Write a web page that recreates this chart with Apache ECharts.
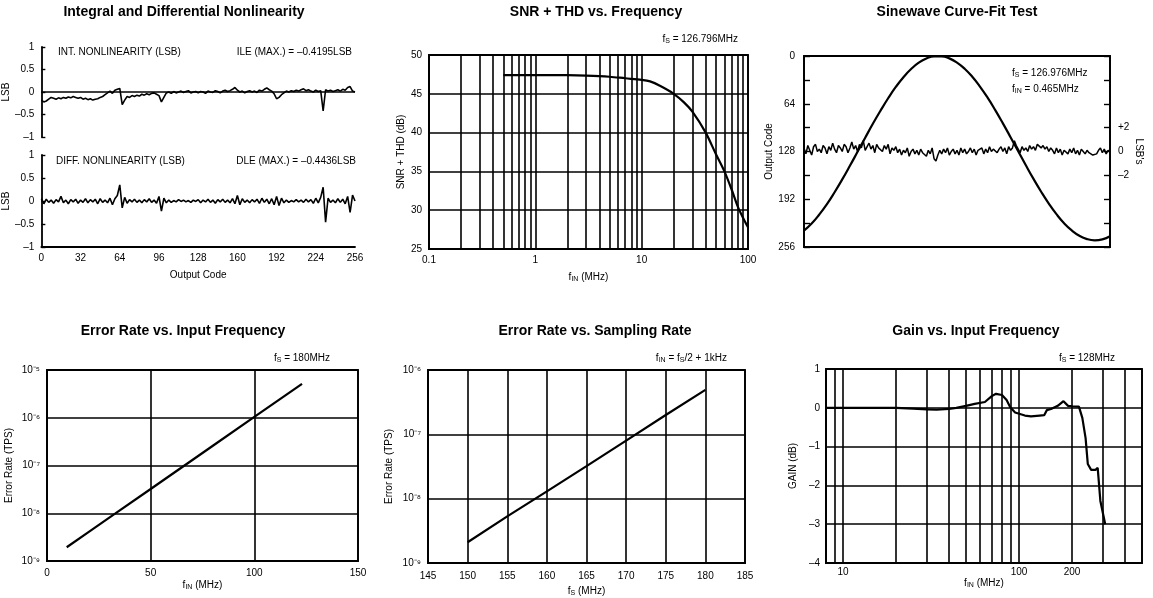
<!DOCTYPE html>
<html>
<head>
<meta charset="utf-8">
<title>ADC typical performance</title>
<script src="https://cdn.jsdelivr.net/npm/echarts@6/dist/echarts.min.js"></script>
<style>
html, body { margin: 0; padding: 0; background: #fff; }
#main { width: 1153px; height: 598px; }
</style>
</head>
<body>
<div id="main"></div>
<script>
// ---- data ----

// INL / DNL, one reading every 2 output codes (0..256)
var codeStep = 2;
var inlData = [
  -0.18, -0.22, -0.2, -0.16, -0.12, -0.14, -0.16, -0.13, -0.15, -0.12, -0.14, -0.11, -0.13, -0.1, -0.12, -0.14,
  -0.12, -0.16, -0.14, -0.17, -0.15, -0.18, -0.16, -0.15, -0.12, -0.1, -0.06, -0.02, 0.02, -0.03, 0.04, 0.06,
  0.08, -0.28, -0.18, -0.1, -0.12, -0.08, -0.1, -0.07, -0.09, -0.05, -0.07, -0.04, -0.06, -0.03, -0.02, -0.05,
  -0.08, -0.22, -0.12, -0.02, 0.0, -0.03, 0.01, -0.02, 0.0, 0.02, -0.01, 0.01, 0.03, -0.02, 0.0, 0.01,
  -0.02, 0.01, 0.0, -0.03, 0.02, 0.0, -0.01, 0.03, 0.01, -0.02, 0.02, 0.04, 0.01, 0.03, 0.06, 0.1,
  0.04, 0.0, 0.02, -0.02, 0.01, 0.03, 0.0, 0.02, -0.01, 0.04, 0.02, 0.06, 0.09, 0.05, 0.02, -0.04,
  -0.15, -0.12, -0.06, -0.02, 0.02, 0.0, 0.03, 0.01, 0.04, 0.02, 0.05, 0.07, 0.03, 0.05, 0.02, 0.0,
  0.04, 0.01, 0.03, -0.42, 0.05, 0.02, 0.04, 0.01, 0.03, 0.05, 0.02, 0.06, 0.04, 0.1, 0.12, 0.02,
  0.0
];
var dnlData = [
  0.05, -0.06, 0.04, -0.03, 0.02, -0.05, 0.03, -0.02, 0.1, -0.04, 0.02, -0.06, 0.03, -0.02, 0.04, -0.05,
  0.02, -0.03, 0.05, -0.04, 0.03, -0.02, 0.04, -0.06, 0.05, -0.03, 0.02, -0.04, 0.06, -0.08, 0.05, 0.12,
  0.35, -0.15, 0.08, -0.05, 0.03, -0.02, 0.04, -0.03, 0.02, -0.04, 0.03, -0.02, 0.05, -0.03, 0.02, -0.05,
  0.1, -0.22, 0.06, -0.04, 0.02, -0.03, 0.01, -0.02, 0.03, -0.01, 0.02, -0.02, 0.01, -0.03, 0.02, -0.01,
  0.03, -0.04, 0.02, -0.02, 0.04, -0.03, 0.02, -0.05, 0.03, -0.02, 0.04, -0.03, 0.02, -0.04, 0.05, -0.06,
  0.12, -0.08, 0.05, -0.03, 0.02, -0.04, 0.03, -0.02, 0.04, -0.05, 0.06, -0.03, 0.04, -0.06, 0.05, -0.08,
  0.1, -0.1, 0.06, -0.04, 0.02, -0.03, 0.01, -0.02, 0.03, -0.02, 0.02, -0.03, 0.04, -0.02, 0.03, -0.05,
  0.06, -0.04, 0.08, 0.3, -0.46, 0.06, -0.03, 0.02, -0.04, 0.05, -0.03, 0.04, -0.06, 0.1, -0.25, 0.13,
  0.0
];

// SNR + THD vs input frequency (MHz, dB)
var snrFreq = [0.5, 1, 2, 3, 5, 7, 10, 12, 15, 20, 25, 30, 40, 50, 60, 70, 80, 90, 100];
var snrValue = [47.4, 47.4, 47.4, 47.35, 47.2, 47.0, 46.8, 46.6, 46.0, 45.0, 43.9, 42.7, 40.0, 37.2, 35.0, 32.7, 30.5, 29.0, 27.8];
var snrMinorGrid = [0.2, 0.3, 0.4, 0.5, 0.6, 0.7, 0.8, 0.9, 2, 3, 4, 5, 6, 7, 8, 9, 20, 30, 40, 50, 60, 70, 80, 90];

// sinewave curve fit: output code every 4 samples, fit error (LSB) every sample
var sineStep = 4;
var sineCode = [234, 224.5, 212.4, 198.5, 182.6, 165.4, 147.2, 128.4, 109.5, 90.9, 73.3, 56.6, 41.5, 28.4,
  17.5, 9.0, 3.3, 0.4, 0.4, 3.2, 8.8, 17.0, 27.9, 41.0, 55.9, 72.5, 90.3, 108.8, 127.7, 146.5, 164.7,
  181.9, 197.8, 212.0, 224.2, 233.8, 241.0, 245.4, 247.0, 245.7, 241.5];
var fitError = [
  0.3, -0.2, 0.5, 0.1, -0.3, 0.4, 0.6, 0.0, 0.2, -0.1,
  0.5, 0.3, -0.2, 0.4, 0.1, 0.7, 0.2, -0.1, 0.5, 0.3,
  0.0, 0.6, 0.4, -0.1, 0.3, 0.8, 0.2, 0.5, 0.0, 0.6,
  0.3, 0.9, 0.1, 0.4, 0.7, 0.2, 0.5, -0.1, 0.6, 0.3,
  0.4, 0.0, 0.5, 0.2, 0.6, -0.2, 0.3, 0.1, 0.4, -0.1,
  0.2, -0.3, 0.1, -0.1, 0.3, -0.4, 0.0, 0.2, -0.2, 0.1,
  -0.3, 0.2, -0.1, 0.0, -0.4, 0.1, -0.2, 0.3, -0.6, -0.8,
  -0.3, 0.1, -0.2, 0.2, -0.1, 0.3, -0.3, 0.0, 0.2, -0.2,
  0.1, -0.3, 0.3, -0.1, 0.2, -0.2, 0.0, 0.3, -0.1, 0.2,
  -0.3, 0.1, 0.0, 0.3, -0.2, 0.2, -0.1, 0.4, 0.0, 0.2,
  0.3, -0.1, 0.2, 0.4, 0.0, 0.3, -0.2, 0.4, 0.1, 0.3,
  0.9, 0.5, 0.2, -0.1, 0.4, 0.1, 0.3, 0.0, 0.5, 0.2,
  0.4, 0.1, 0.6, 0.5, 0.3, 0.5, 0.2, 0.4, 0.0, 0.3,
  0.1, -0.2, 0.3, -0.1, 0.2, -0.3, 0.1, 0.0, -0.2, 0.2,
  -0.1, 0.3, -0.2, 0.1, -0.3, 0.2, 0.0, -0.2, 0.1, -0.1,
  0.0, -0.3, -0.4, -0.2, 0.1, 0.3, -0.1, 0.2, -0.2, 0.1,
  0.0
];

// error rate vs input frequency (MHz, TPS)
var erFreq = [9.5, 20, 33, 50, 67, 80, 100, 123];
var erFreqRate = [1.94e-9, 4.02e-9, 9.9e-9, 3.22e-8, 1.05e-7, 2.59e-7, 1.04e-6, 5.13e-6];

// error rate vs sampling rate (MHz, TPS)
var erFs = [150, 155, 160, 165, 170, 175, 180];
var erFsRate = [2.1e-9, 5.3e-9, 1.3e-8, 3.2e-8, 8e-8, 2e-7, 4.9e-7];
var erFsMinorGrid = [3e-9, 3e-8, 3e-7];

// gain vs input frequency (MHz, dB)
var gainFreq = [8, 10, 15, 20, 25, 30, 34, 40, 44, 50, 56, 64, 70, 74, 80, 85, 89, 95, 108, 117,
  131, 139, 144, 152, 166, 179, 190, 201, 219, 229, 239, 246, 257, 272, 280, 290, 309];
var gainDb = [0, 0, 0, 0, -0.02, -0.04, -0.05, -0.03, 0, 0.05, 0.1, 0.15, 0.3, 0.36, 0.33, 0.2, 0.02, -0.12, -0.2, -0.22,
  -0.2, -0.19, -0.06, -0.03, 0.05, 0.17, 0.05, 0.04, 0.03, -0.26, -0.78, -1.45, -1.6, -1.6, -1.55, -2.4, -3.0];
var gainMinorGrid = [9, 20, 30, 40, 50, 60, 70, 80, 90, 200, 300, 400];
var gainLabels = [10, 100];
var gainExtraLabels = [200];

// ---- helpers ----
var FONT = "'Liberation Sans', Arial, sans-serif";
var SUP = { '-': '\u207b', '0': '\u2070', '1': '\u00b9', '2': '\u00b2', '3': '\u00b3', '4': '\u2074',
  '5': '\u2075', '6': '\u2076', '7': '\u2077', '8': '\u2078', '9': '\u2079' };

function powLabel(v) {
  var e = Math.round(Math.log(v) / Math.LN10);
  return '10' + String(e).split('').map(function (c) { return SUP[c]; }).join('');
}
function dash(v) { return String(v).replace('-', '\u2013'); }

var subRich = { sub: { fontSize: 7, fontFamily: FONT, color: '#000', padding: [4, 0, 0, 0] } };
var lbl = { color: '#000', fontSize: 10, fontFamily: FONT };
var nameStyle = { color: '#000', fontSize: 10, fontFamily: FONT, rich: subRich };
var blackLine = { show: true, onZero: false, lineStyle: { color: '#000', width: 1.8 } };
var gridLine = { show: true, lineStyle: { color: '#000', width: 1.6 } };

function heading(text, x, y) {
  return { text: text, left: x, top: y, padding: 0, textAlign: 'center', textVerticalAlign: 'top',
    textStyle: { fontSize: 14, fontWeight: 'bold', color: '#000', fontFamily: FONT } };
}
function note(text, x, y, align) {
  return { text: text, left: x, top: y, padding: 0, textAlign: align || 'left', textVerticalAlign: 'top',
    textStyle: { fontSize: 10, fontWeight: 'normal', color: '#000', fontFamily: FONT, rich: subRich } };
}
function pairs(xs, ys) { return xs.map(function (x, i) { return [x, ys[i]]; }); }
function stepped(ys, step) { return ys.map(function (y, i) { return [i * step, y]; }); }

function gridLines(key, values, labelled) {
  return {
    silent: true, symbol: 'none', animation: false,
    lineStyle: { color: '#000', width: 1.6, type: 'solid' },
    label: { show: false },
    emphasis: { disabled: true },
    data: values.map(function (v) {
      var d = {};
      d[key] = v;
      if (labelled && labelled.indexOf(v) >= 0) {
        d.label = { show: true, position: 'start', formatter: String(v), distance: 4,
          color: '#000', fontSize: 10, fontFamily: FONT };
      }
      return d;
    })
  };
}
function lineSeries(x, y, data, width, extra) {
  return Object.assign({
    type: 'line', xAxisIndex: x, yAxisIndex: y, data: data, showSymbol: false, symbol: 'none',
    lineStyle: { color: '#000', width: width }, itemStyle: { color: '#000' }, silent: true
  }, extra || {});
}
function insideTicks(len) {
  return { show: true, inside: true, length: len, lineStyle: { color: '#000', width: 1.4 } };
}

var boxed = { show: true, borderColor: '#000', borderWidth: 1.8, backgroundColor: 'transparent' };

var chart = echarts.init(document.getElementById('main'));

var option = {
  animation: false,
  backgroundColor: '#fff',
  title: [
    heading('Integral and Differential Nonlinearity', 184, 5),
    heading('SNR + THD vs. Frequency', 596, 5),
    heading('Sinewave Curve-Fit Test', 957, 5),
    heading('Error Rate vs. Input Frequency', 183, 324),
    heading('Error Rate vs. Sampling Rate', 595, 324),
    heading('Gain vs. Input Frequency', 976, 324),
    note('INT. NONLINEARITY (LSB)', 58, 47),
    note('ILE (MAX.) = \u20130.4195LSB', 352, 47, 'right'),
    note('DIFF. NONLINEARITY (LSB)', 56, 156),
    note('DLE (MAX.) = \u20130.4436LSB', 356, 156, 'right'),
    note('f{sub|S} = 126.796MHz', 738, 34, 'right'),
    note('f{sub|S} = 126.976MHz', 1012, 68),
    note('f{sub|IN} = 0.465MHz', 1012, 84),
    note('f{sub|S} = 180MHz', 330, 353, 'right'),
    note('f{sub|IN} = f{sub|S}/2 + 1kHz', 727, 353, 'right'),
    note('f{sub|S} = 128MHz', 1115, 353, 'right')
  ],
  grid: [
    { left: 41, top: 47, width: 314, height: 90 },
    { left: 41, top: 155, width: 314, height: 92 },
    Object.assign({ left: 429, top: 55, width: 319, height: 194 }, boxed),
    Object.assign({ left: 804, top: 56, width: 306, height: 191 }, boxed),
    Object.assign({ left: 47, top: 370, width: 311, height: 191 }, boxed),
    Object.assign({ left: 428, top: 370, width: 317, height: 193 }, boxed),
    Object.assign({ left: 826, top: 369, width: 316, height: 194 }, boxed)
  ],
  xAxis: [
    { gridIndex: 0, type: 'value', min: 0, max: 256, show: false },
    { gridIndex: 1, type: 'value', min: 0, max: 256, interval: 32, axisLine: blackLine,
      axisTick: { show: false }, splitLine: { show: false }, axisLabel: Object.assign({ margin: 6 }, lbl),
      name: 'Output Code', nameLocation: 'middle', nameGap: 23, nameTextStyle: nameStyle },
    { gridIndex: 2, type: 'log', logBase: 10, min: 0.1, max: 100, axisLine: blackLine,
      axisTick: { show: false }, splitLine: gridLine, axisLabel: Object.assign({ margin: 6 }, lbl),
      name: 'f{sub|IN} (MHz)', nameLocation: 'middle', nameGap: 23, nameTextStyle: nameStyle },
    { gridIndex: 3, type: 'value', min: 0, max: 160, axisLine: blackLine, axisTick: { show: false },
      axisLabel: { show: false }, splitLine: { show: false } },
    { gridIndex: 4, type: 'value', min: 0, max: 150, interval: 50, axisLine: blackLine,
      axisTick: { show: false }, splitLine: gridLine, axisLabel: Object.assign({ margin: 7 }, lbl),
      name: 'f{sub|IN} (MHz)', nameLocation: 'middle', nameGap: 19, nameTextStyle: nameStyle },
    { gridIndex: 5, type: 'value', min: 145, max: 185, interval: 5, axisLine: blackLine,
      axisTick: { show: false }, splitLine: gridLine, axisLabel: Object.assign({ margin: 8 }, lbl),
      name: 'f{sub|S} (MHz)', nameLocation: 'middle', nameGap: 23, nameTextStyle: nameStyle },
    { gridIndex: 6, type: 'log', logBase: 10, min: 8, max: 500, axisLine: blackLine,
      axisTick: { show: false }, splitLine: gridLine,
      axisLabel: Object.assign({ margin: 4, formatter: function (v) {
        return gainLabels.indexOf(Math.round(v)) >= 0 ? String(Math.round(v)) : '';
      } }, lbl),
      name: 'f{sub|IN} (MHz)', nameLocation: 'middle', nameGap: 14, nameTextStyle: nameStyle }
  ],
  yAxis: [
    { gridIndex: 0, type: 'value', min: -1, max: 1, interval: 0.5, axisLine: blackLine,
      axisTick: insideTicks(4), splitLine: { show: false },
      axisLabel: Object.assign({ margin: 7, formatter: dash }, lbl),
      name: 'LSB', nameLocation: 'middle', nameGap: 24, nameTextStyle: nameStyle },
    { gridIndex: 1, type: 'value', min: -1, max: 1, interval: 0.5, axisLine: blackLine,
      axisTick: insideTicks(4), splitLine: { show: false },
      axisLabel: Object.assign({ margin: 7, formatter: dash }, lbl),
      name: 'LSB', nameLocation: 'middle', nameGap: 24, nameTextStyle: nameStyle },
    { gridIndex: 2, type: 'value', min: 25, max: 50, interval: 5, axisLine: blackLine,
      axisTick: { show: false }, splitLine: gridLine, axisLabel: Object.assign({ margin: 7 }, lbl),
      name: 'SNR + THD (dB)', nameLocation: 'middle', nameGap: 23, nameTextStyle: nameStyle },
    { gridIndex: 3, type: 'value', inverse: true, min: 0, max: 256, interval: 32, axisLine: blackLine,
      axisTick: insideTicks(6), splitLine: { show: false },
      axisLabel: Object.assign({ margin: 9, formatter: function (v) { return v % 64 === 0 ? String(v) : ''; } }, lbl),
      name: 'Output Code', nameLocation: 'middle', nameGap: 26, nameTextStyle: nameStyle },
    { gridIndex: 3, type: 'value', position: 'right', min: -8, max: 8, interval: 2, axisLine: blackLine,
      axisTick: insideTicks(6), splitLine: { show: false },
      axisLabel: Object.assign({ margin: 8, formatter: function (v) {
        if (v === 2) return '+2';
        if (v === 0) return '0';
        if (v === -2) return '\u20132';
        return '';
      } }, lbl),
      name: "LSB's", nameLocation: 'middle', nameGap: 24, nameRotate: -90, nameTextStyle: nameStyle },
    { gridIndex: 4, type: 'log', logBase: 10, min: 1e-9, max: 1e-5, axisLine: blackLine,
      axisTick: { show: false }, splitLine: gridLine, axisLabel: Object.assign({ margin: 7, formatter: powLabel }, lbl),
      name: 'Error Rate (TPS)', nameLocation: 'middle', nameGap: 33, nameTextStyle: nameStyle },
    { gridIndex: 5, type: 'log', logBase: 10, min: 1e-9, max: 1e-6, axisLine: blackLine,
      axisTick: { show: false }, splitLine: gridLine, axisLabel: Object.assign({ margin: 7, formatter: powLabel }, lbl),
      name: 'Error Rate (TPS)', nameLocation: 'middle', nameGap: 34, nameTextStyle: nameStyle },
    { gridIndex: 6, type: 'value', min: -4, max: 1, interval: 1, axisLine: blackLine,
      axisTick: { show: false }, splitLine: gridLine, axisLabel: Object.assign({ margin: 6, formatter: dash }, lbl),
      name: 'GAIN (dB)', nameLocation: 'middle', nameGap: 28, nameTextStyle: nameStyle }
  ],
  series: [
    lineSeries(0, 0, stepped(inlData, codeStep), 1.6, { markLine: gridLines('yAxis', [0]) }),
    lineSeries(1, 1, stepped(dnlData, codeStep), 1.6),
    lineSeries(2, 2, pairs(snrFreq, snrValue), 2.2, { smooth: 0.3, markLine: gridLines('xAxis', snrMinorGrid) }),
    lineSeries(3, 3, stepped(sineCode, sineStep), 2.2, { smooth: true }),
    lineSeries(3, 4, stepped(fitError, 1), 1.5),
    lineSeries(4, 5, pairs(erFreq, erFreqRate), 2.2),
    lineSeries(5, 6, pairs(erFs, erFsRate), 2.2, { markLine: gridLines('yAxis', erFsMinorGrid) }),
    lineSeries(6, 7, pairs(gainFreq, gainDb), 2.2, { markLine: gridLines('xAxis', gainMinorGrid, gainExtraLabels) })
  ]
};

option && chart.setOption(option);
window.addEventListener('resize', function () {
  chart.resize();
});
</script>
</body>
</html>
